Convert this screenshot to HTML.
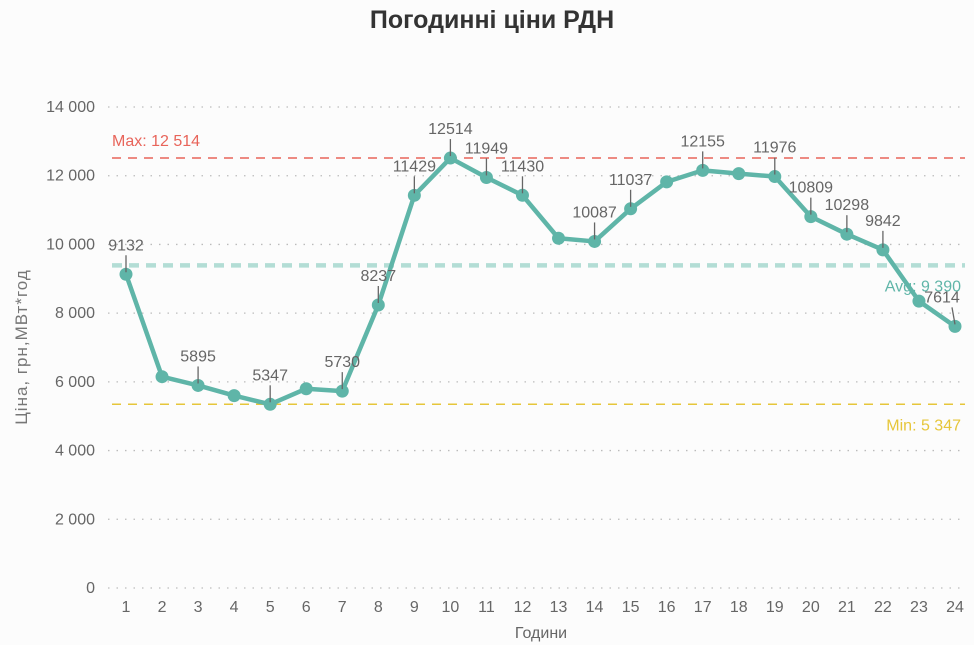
<!DOCTYPE html>
<html><head><meta charset="utf-8"><style>
body{margin:0;background:#fcfcfc;}
svg{display:block;font-family:"Liberation Sans","DejaVu Sans",sans-serif;}
</style></head><body>
<svg id="chart" width="974" height="645">
<text x="492" y="28" text-anchor="middle" font-size="25" font-weight="bold" fill="#333">Погодинні ціни РДН</text>
<g id="grid"></g><g id="refs"></g><g id="series"></g><g id="labels"></g><g id="xaxis"></g>
<text x="541" y="638" text-anchor="middle" font-size="16" fill="#666">Години</text>
<text transform="translate(27,347) rotate(-90)" text-anchor="middle" font-size="17" letter-spacing="1" fill="#777">Ціна, грн,МВт*год</text>
</svg>
<script>
const hours=[1,2,3,4,5,6,7,8,9,10,11,12,13,14,15,16,17,18,19,20,21,22,23,24];
const prices=[9132,6150,5895,5600,5347,5800,5730,8237,11429,12514,11949,11430,10180,10087,11037,11820,12155,12060,11976,10809,10298,9842,8350,7614];
const showLabel=[1,0,1,0,1,0,1,1,1,1,1,1,0,1,1,0,1,0,1,1,1,1,0,1];
const yTicks=[0,2000,4000,6000,8000,10000,12000,14000];
const maxVal=12514, minVal=5347, avgVal=9390;
const NS="http://www.w3.org/2000/svg";
const y=v=>588-v/14000*481;
const x=h=>126+(h-1)*(829/23);
function mk(tag,attrs,parent,text){const e=document.createElementNS(NS,tag);for(const k in attrs)e.setAttribute(k,attrs[k]);if(text!==undefined)e.textContent=text;parent.appendChild(e);return e;}
const grid=document.getElementById('grid');
yTicks.forEach(t=>{
 const l=mk('line',{x1:108,x2:965,y1:y(t),y2:y(t),stroke:'#bbb','stroke-width':1.3,'stroke-dasharray':'1.5 7'},grid);
 
 
 const tx=mk('text',{x:95,y:y(t)+5,'text-anchor':'end','font-size':16,fill:'#666'},grid,t.toLocaleString('en-US').replace(',',' '));
 
 
});
const refs=document.getElementById('refs');
const fmt=v=>v.toLocaleString('en-US').replace(',',' ');
let r=mk('line',{x1:112,x2:965,y1:y(maxVal),y2:y(maxVal),stroke:'#e8645a','stroke-width':1.5,'stroke-dasharray':'9 7'},refs);

r=mk('text',{x:112,y:y(maxVal)-12,'font-size':16,fill:'#e8645a'},refs,'Max: '+fmt(maxVal));

r=mk('line',{x1:112,x2:965,y1:y(minVal),y2:y(minVal),stroke:'#e6c63a','stroke-width':1.5,'stroke-dasharray':'9 7'},refs);

r=mk('text',{x:961,y:y(minVal)+26,'text-anchor':'end','font-size':16,fill:'#e6c63a'},refs,'Min: '+fmt(minVal));

r=mk('line',{x1:112,x2:965,y1:y(avgVal),y2:y(avgVal),stroke:'#b3ddd5','stroke-width':4.5,'stroke-dasharray':'10 7'},refs);

r=mk('text',{x:961,y:y(avgVal)+26,'text-anchor':'end','font-size':16,fill:'#5fb5a8'},refs,'Avg: '+fmt(avgVal));

const series=document.getElementById('series');
const p=mk('polyline',{points:hours.map((h,i)=>x(h)+','+y(prices[i])).join(' '),fill:'none',stroke:'#5fb5a8','stroke-width':4.5,'stroke-linejoin':'round'},series);

const labels=document.getElementById('labels');
hours.forEach((h,i)=>{
 const c=mk('circle',{cx:x(h),cy:y(prices[i]),r:6.5,fill:'#5fb5a8'},series);
 
 
 if(showLabel[i]){
  const px=x(h),py=y(prices[i]);
  const last=i===hours.length-1;
  const tx=last?px-13:px;
  const ln=mk('line',{x1:px,x2:last?px-3:px,y1:py-2,y2:py-19,stroke:'#666','stroke-width':1.3},labels);
  
  
  const t=mk('text',{x:tx,y:py-24,'text-anchor':'middle','font-size':16,fill:'#666'},labels,String(prices[i]));
  
  
 }
});
const xa=document.getElementById('xaxis');
hours.forEach(h=>{
 const t=mk('text',{x:x(h),y:612,'text-anchor':'middle','font-size':16,fill:'#666'},xa,String(h));
 
 
});
</script>
</body></html>
